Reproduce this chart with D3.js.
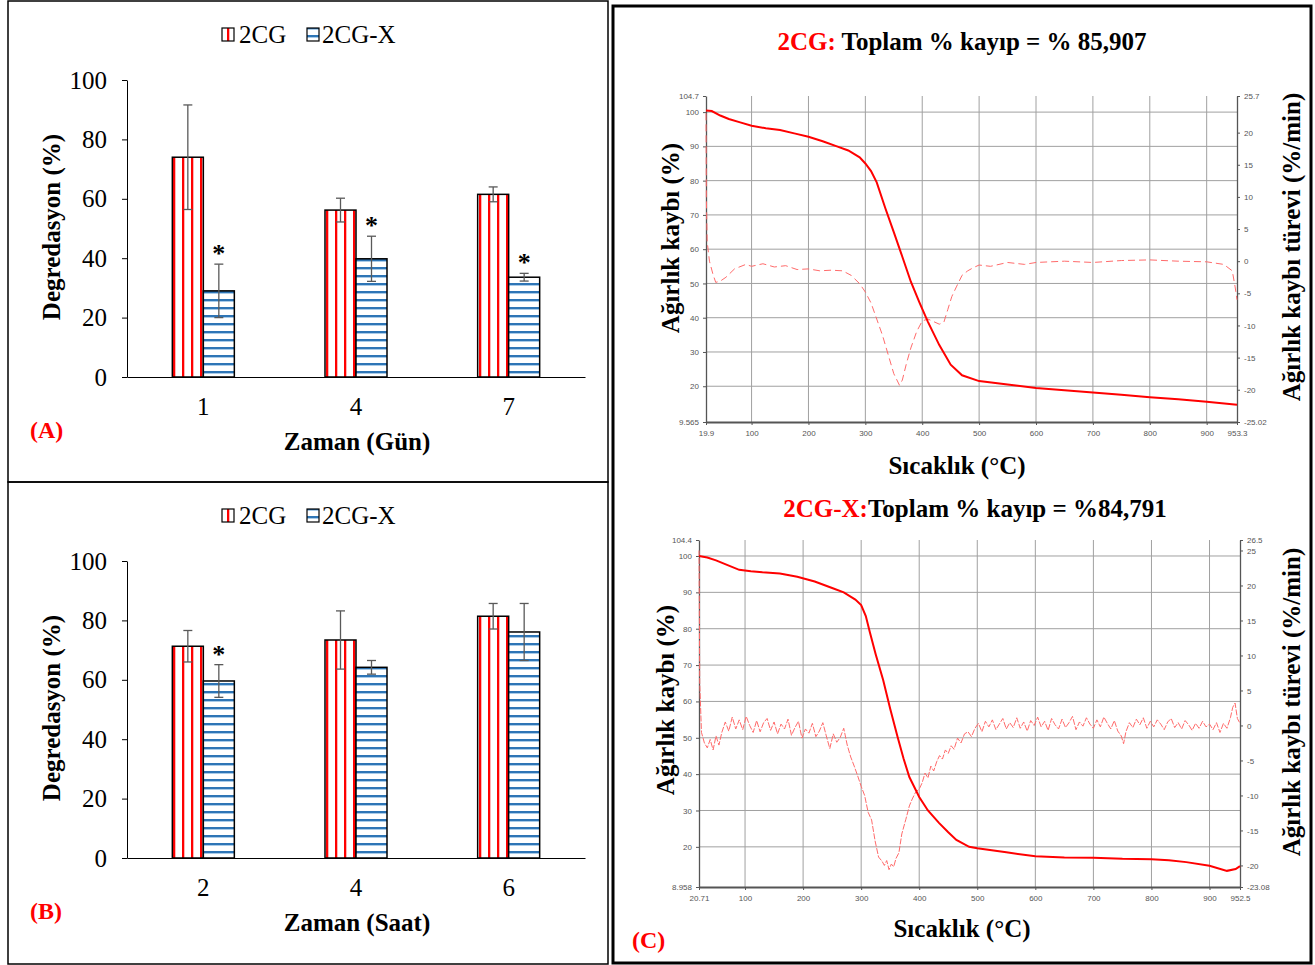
<!DOCTYPE html>
<html>
<head>
<meta charset="utf-8">
<script src="https://cdn.jsdelivr.net/npm/d3@7"></script>
<style>
  body { margin: 0; background: #fff; }
  text { font-family: "Liberation Serif", "Times New Roman", serif; }
  .tga text { font-family: "Liberation Sans", Arial, sans-serif; font-size: 8px; fill: #555; }
</style>
</head>
<body>
<script>
// ---- bar chart data (A: days, B: hours) ----
var daysA = ["1", "4", "7"];
var cgA = [74, 56.2, 61.5];
var cgErrA = [17.6, 4, 2.5];
var cgxA = [29, 39.8, 33.6];
var cgxErrA = [9, 7.6, 1.3];
var sigA = [true, true, true];

var hoursB = ["2", "4", "6"];
var cgB = [71.3, 73.4, 81.4];
var cgErrB = [5.3, 9.8, 4.3];
var cgxB = [59.6, 64.2, 76.1];
var cgxErrB = [5.5, 2.3, 9.6];
var sigB = [true, false, false];

var barTicks = [0, 20, 40, 60, 80, 100];

// ---- TGA data, 2CG ----
var tTop = [19.9, 30, 45, 60, 80, 100, 125, 150, 175, 200, 225, 250, 270, 290, 300, 310, 320, 335, 350, 365, 380, 395, 410, 430, 450, 470, 500, 550, 600, 650, 700, 750, 800, 825, 850, 900, 953.3];
var massTop = [100.5, 100.3, 99, 98, 97, 96, 95.3, 94.8, 93.8, 92.8, 91.5, 90, 88.8, 86.8, 85, 82.8, 79.5, 72, 65, 57.8, 50.5, 44.5, 38.8, 32, 26.3, 23.2, 21.5, 20.5, 19.5, 18.8, 18.2, 17.5, 16.8, 16.5, 16.2, 15.5, 14.6];
var tdTop = [19.9, 20.5, 22, 26, 32, 37, 45, 55, 70, 90, 100, 120, 140, 160, 180, 200, 220, 240, 260, 275, 290, 300, 310, 320, 330, 340, 350, 360, 365, 372, 380, 390, 400, 410, 420, 430, 438, 445, 452, 460, 470, 480, 490, 500, 520, 550, 580, 600, 650, 700, 750, 800, 850, 900, 930, 945, 950, 953.3];
var derivTop = [23, 10, 3, 0, -2, -3.3, -3.1, -2.5, -1.2, -0.5, -0.8, -0.4, -0.9, -0.7, -1.3, -1.2, -1.5, -1.4, -1.5, -2.2, -3.5, -4.8, -6.5, -9, -11.5, -14.5, -17.5, -19.3, -18.5, -16, -13.5, -11, -9.3, -9, -9.4, -9.8, -9.5, -7.5, -5.5, -4, -2.2, -1.5, -1, -0.6, -0.8, -0.2, -0.5, -0.2, 0, -0.2, 0.1, 0.2, 0, -0.1, -0.5, -1.5, -4, -6];
var xTicksTop = [19.9, 100, 200, 300, 400, 500, 600, 700, 800, 900, 953.3];
var yTicksTop = [9.565, 20, 30, 40, 50, 60, 70, 80, 90, 100, 104.7];
var rTicksTop = [-25.02, -20, -15, -10, -5, 0, 5, 10, 15, 20, 25.7];

// ---- TGA data, 2CG-X ----
var tBot = [20.71, 35, 50, 70, 90, 110, 130, 160, 190, 220, 250, 270, 290, 300, 308, 315, 325, 338, 350, 363, 373, 383, 400, 415, 434, 450, 464, 486, 500, 550, 600, 650, 700, 750, 800, 830, 860, 900, 930, 945, 952.5];
var massBot = [100, 99.6, 98.8, 97.5, 96.2, 95.8, 95.5, 95.2, 94.3, 93, 91.2, 90, 88, 86.5, 83.5, 79, 73, 65.8, 58, 50.1, 44.3, 39.2, 33.7, 30, 26.6, 24, 21.9, 20, 19.6, 18.5, 17.4, 17.1, 17.0, 16.7, 16.6, 16.3, 15.8, 14.8, 13.4, 13.9, 14.7];
var tdBot = [20.71, 22, 25, 30, 35, 40, 45, 50, 55, 60, 66, 72, 78, 84, 90, 96, 102, 108, 114, 120, 126, 132, 138, 144, 150, 156, 162, 168, 174, 180, 186, 192, 198, 204, 210, 216, 222, 228, 234, 240, 246, 252, 258, 264, 270, 276, 282, 288, 294, 300, 306, 312, 318, 324, 330, 336, 340, 344, 348, 352, 356, 360, 365, 370, 377, 383, 388, 394, 400, 405, 410, 415, 420, 425, 430, 435, 440, 445, 450, 455, 460, 466, 472, 478, 484, 490, 496, 502, 508, 514, 520, 526, 532, 538, 544, 550, 556, 562, 568, 574, 580, 586, 592, 598, 604, 610, 616, 622, 628, 634, 640, 646, 652, 658, 664, 670, 676, 682, 688, 694, 700, 706, 712, 718, 724, 730, 736, 742, 748, 752, 756, 762, 768, 774, 780, 786, 792, 798, 804, 810, 816, 822, 828, 834, 840, 846, 852, 858, 864, 870, 876, 882, 888, 894, 900, 906, 912, 918, 924, 930, 936, 940, 944, 948, 952.5];
var derivBot = [25, 6, -1, -2.5, -3.2, -2, -3.5, -1.5, -2.8, -1, 0.5, -0.8, 1.2, -0.5, 0.8, -0.6, 1.3, 0, -1, 0.7, -0.9, 0.4, 1, -0.7, 0.5, -1.2, 0.2, -0.5, 0.9, -1.4, -0.3, 0.6, -1.8, -0.5, -1.1, 0.3, -1.6, -0.8, 0.4, -1.5, -3.3, -1.2, -2.4, -1.7, -0.4, -2.8, -4.5, -5.8, -7.2, -8.7, -10, -12.4, -13.5, -16.5, -18.8, -19.4, -20, -19.3, -20.6, -19.8, -20.2, -19, -18.2, -15.5, -13.4, -11.5, -10.5, -9.5, -9.1, -8.2, -6.8, -7.5, -5.8, -6.5, -5.2, -4.3, -4.8, -3.5, -4, -2.9, -3.4, -1.8, -2.5, -1.2, -0.9, -1.6, -0.4, 0.3, -0.9, 0.6, -0.2, 0.8, -0.6, 0.2, 1, -0.5, 0.4, -0.3, 1.1, -0.4, 0.5, -0.8, 0.7, 0, 1.2, -0.2, 0.6, -0.7, 1, 0.1, -0.5, 0.9, -0.3, 0.4, 1.3, -0.6, 0.5, -0.1, 1.1, 0.2, -0.4, 0.8, -0.2, 1.2, 0.3, -0.5, 0.7, -0.8, -1.5, -2.6, -0.9, 0.4, -0.3, 0.9, 0.1, 1.1, -0.4, 0.6, -0.2, 0.8, 0.2, -0.6, 0.5, 1, -0.3, 0.4, -0.5, 0.7, 0.1, -0.7, 0.3, -0.4, 0.6, -0.2, 0.2, -0.6, 0.4, -1, 0.3, -0.4, 1.1, 2.6, 3.2, 1, 0.3];
var xTicksBot = [20.71, 100, 200, 300, 400, 500, 600, 700, 800, 900, 952.5];
var yTicksBot = [8.958, 20, 30, 40, 50, 60, 70, 80, 90, 100, 104.4];
var rTicksBot = [-23.08, -20, -15, -10, -5, 0, 5, 10, 15, 20, 25, 26.5];

var svg = d3.select("body").append("svg")
    .attr("width", 1315)
    .attr("height", 965);

// patterns for the bars
var defs = svg.append("defs");
var vp = defs.append("pattern").attr("id", "vstripe")
    .attr("patternUnits", "userSpaceOnUse").attr("width", 9).attr("height", 10);
vp.append("rect").attr("width", 9).attr("height", 10).attr("fill", "#fff");
vp.append("rect").attr("x", 2).attr("width", 2).attr("height", 10).attr("fill", "#ff0000");
vp.append("rect").attr("x", 4).attr("width", 1).attr("height", 10).attr("fill", "#ffb3b3");
var hp = defs.append("pattern").attr("id", "hstripe")
    .attr("patternUnits", "userSpaceOnUse").attr("width", 10).attr("height", 8);
hp.append("rect").attr("width", 10).attr("height", 8).attr("fill", "#fff");
hp.append("rect").attr("y", 3).attr("width", 10).attr("height", 2).attr("fill", "#2e75b6");
hp.append("rect").attr("y", 5).attr("width", 10).attr("height", 1).attr("fill", "#a9cbe8");

// panel frames
svg.append("rect").attr("x", 8).attr("y", 1).attr("width", 600).attr("height", 481)
   .attr("fill", "none").attr("stroke", "#000").attr("stroke-width", 1.5);
svg.append("rect").attr("x", 8).attr("y", 482).attr("width", 600).attr("height", 482)
   .attr("fill", "none").attr("stroke", "#000").attr("stroke-width", 1.5);
svg.append("rect").attr("x", 613).attr("y", 6).attr("width", 698).attr("height", 957)
   .attr("fill", "none").attr("stroke", "#000").attr("stroke-width", 3);

/* ---------- bar charts ---------- */
function drawBars(cats, cg, cgErr, cgx, cgxErr, sig, top, xTitle, tag) {
  var base = top + 377;
  var x = d3.scaleBand().domain(cats).range([127, 585]);
  var y = d3.scaleLinear().domain([0, 100]).range([base, base - 297]);
  var bw = 31;
  var g = svg.append("g");

  // legend
  var lg = g.append("g").attr("transform", "translate(0," + top + ")");
  lg.append("rect").attr("x", 222).attr("y", 28).attr("width", 12).attr("height", 13)
    .attr("fill", "url(#vstripe)").attr("stroke", "#000").attr("stroke-width", 1.2);
  lg.append("text").attr("x", 239).attr("y", 43).attr("font-size", 25).text("2CG");
  lg.append("rect").attr("x", 307).attr("y", 28).attr("width", 12).attr("height", 13)
    .attr("fill", "url(#hstripe)").attr("stroke", "#000").attr("stroke-width", 1.2);
  lg.append("text").attr("x", 322).attr("y", 43).attr("font-size", 25).text("2CG-X");

  // axes
  var ya = g.append("g").attr("transform", "translate(127,0)")
    .call(d3.axisLeft(y).tickValues(barTicks).tickSize(5).tickSizeOuter(0).tickPadding(15));
  ya.selectAll("text").attr("font-size", 25).attr("fill", "#000")
    .style("font-family", "Liberation Serif");
  ya.selectAll("line,path").attr("stroke", "#000");
  var xa = g.append("g").attr("transform", "translate(0," + base + ")")
    .call(d3.axisBottom(x).tickSize(0).tickSizeOuter(0).tickPadding(20));
  xa.selectAll("text").attr("font-size", 25).attr("fill", "#000")
    .style("font-family", "Liberation Serif");
  xa.select("path").attr("stroke", "#000").attr("stroke-width", 1.2);

  // bars
  cats.forEach(function(c, i) {
    var cx = x(c) + x.bandwidth() / 2;
    g.append("rect").attr("x", cx - bw).attr("y", y(cg[i]))
      .attr("width", bw).attr("height", base - y(cg[i]))
      .attr("fill", "url(#vstripe)").attr("stroke", "#000").attr("stroke-width", 1.5);
    g.append("rect").attr("x", cx).attr("y", y(cgx[i]))
      .attr("width", bw).attr("height", base - y(cgx[i]))
      .attr("fill", "url(#hstripe)").attr("stroke", "#000").attr("stroke-width", 1.5);
    // error bars
    [[cx - bw / 2, cg[i], cgErr[i]], [cx + bw / 2, cgx[i], cgxErr[i]]].forEach(function(e) {
      var y1 = y(e[1] + e[2]), y2 = y(e[1] - e[2]);
      g.append("line").attr("x1", e[0]).attr("x2", e[0]).attr("y1", y1).attr("y2", y2)
        .attr("stroke", "#595959").attr("stroke-width", 1.3);
      [y1, y2].forEach(function(yy) {
        g.append("line").attr("x1", e[0] - 4.5).attr("x2", e[0] + 4.5).attr("y1", yy).attr("y2", yy)
          .attr("stroke", "#595959").attr("stroke-width", 1.3);
      });
    });
    if (sig[i]) {
      g.append("text").attr("x", cx + bw / 2).attr("y", y(cgx[i] + cgxErr[i]) - 2)
        .attr("text-anchor", "middle").attr("font-size", 26).attr("font-weight", "bold").text("*");
    }
  });

  // titles
  g.append("text").attr("transform", "translate(60," + (top + 227) + ") rotate(-90)")
    .attr("text-anchor", "middle").attr("font-size", 25).attr("font-weight", "bold")
    .text("Degredasyon (%)");
  g.append("text").attr("x", 357).attr("y", top + 450).attr("text-anchor", "middle")
    .attr("font-size", 25).attr("font-weight", "bold").text(xTitle);
  g.append("text").attr("x", 30).attr("y", top + 438).attr("font-size", 24)
    .attr("font-weight", "bold").attr("fill", "#ff0000").text(tag);
}

drawBars(daysA, cgA, cgErrA, cgxA, cgxErrA, sigA, 0, "Zaman (Gün)", "(A)");
drawBars(hoursB, cgB, cgErrB, cgxB, cgxErrB, sigB, 481, "Zaman (Saat)", "(B)");

/* ---------- TGA charts ---------- */
function drawTGA(c) {
  var x = d3.scaleLinear().domain([c.xt[0], c.xt[c.xt.length - 1]]).range([c.left, c.right]);
  var y = d3.scaleLinear().domain([c.yt[0], c.yt[c.yt.length - 1]]).range([c.bottom, c.top]);
  var yr = d3.scaleLinear().domain([c.rt[0], c.rt[c.rt.length - 1]]).range([c.bottom, c.top]);
  var g = svg.append("g").attr("class", "tga");

  // grid
  c.yt.slice(1, -1).forEach(function(v) {
    g.append("line").attr("x1", c.left).attr("x2", c.right).attr("y1", y(v)).attr("y2", y(v))
      .attr("stroke", "#a0a0a0").attr("stroke-width", 1);
  });
  c.xt.slice(1, -1).forEach(function(v) {
    g.append("line").attr("x1", x(v)).attr("x2", x(v)).attr("y1", c.top).attr("y2", c.bottom)
      .attr("stroke", "#a0a0a0").attr("stroke-width", 1);
  });

  // axes
  var ax = g.append("g").attr("transform", "translate(0," + c.bottom + ")")
    .call(d3.axisBottom(x).tickValues(c.xt).tickSize(3).tickSizeOuter(0).tickPadding(5).tickFormat(String));
  var ay = g.append("g").attr("transform", "translate(" + c.left + ",0)")
    .call(d3.axisLeft(y).tickValues(c.yt).tickSize(3).tickSizeOuter(0).tickPadding(4).tickFormat(String));
  var ar = g.append("g").attr("transform", "translate(" + c.right + ",0)")
    .call(d3.axisRight(yr).tickValues(c.rt).tickSize(3).tickSizeOuter(0).tickPadding(4).tickFormat(String));
  [ax, ay, ar].forEach(function(a) {
    a.selectAll("line").attr("stroke", "#555");
    a.select("path").attr("stroke", "#555").attr("stroke-width", 1.3);
    a.selectAll("text").attr("font-size", 8).attr("fill", "#555");
  });
  ax.select("path").attr("stroke-width", 2);

  // curves
  var massLine = d3.line().x(function(d) { return x(d[0]); }).y(function(d) { return y(d[1]); });
  var derivLine = d3.line().x(function(d) { return x(d[0]); }).y(function(d) { return yr(d[1]); });
  g.append("path").datum(d3.zip(c.td, c.deriv)).attr("d", derivLine)
    .attr("fill", "none").attr("stroke", "#ff6b6b").attr("stroke-width", 1)
    .attr("stroke-dasharray", c.dash);
  g.append("path").datum(d3.zip(c.t, c.mass)).attr("d", massLine)
    .attr("fill", "none").attr("stroke", "#ff0000").attr("stroke-width", 2);

  // titles
  var tt = svg.append("text").attr("x", c.titleX).attr("y", c.titleY)
    .attr("text-anchor", "middle").attr("font-size", 25).attr("font-weight", "bold");
  tt.append("tspan").attr("fill", "#ff0000").text(c.name);
  tt.append("tspan").attr("fill", "#000").text(c.loss);
  svg.append("text").attr("transform", "translate(" + c.lyX + "," + c.lyY + ") rotate(-90)")
    .attr("text-anchor", "middle").attr("font-size", 25).attr("font-weight", "bold")
    .text("Ağırlık kaybı (%)");
  svg.append("text").attr("transform", "translate(" + c.ryX + "," + c.ryY + ") rotate(-90)")
    .attr("text-anchor", "middle").attr("font-size", 25).attr("font-weight", "bold")
    .text("Ağırlık kaybı türevi (%/min)");
  svg.append("text").attr("x", c.xlX).attr("y", c.xlY)
    .attr("text-anchor", "middle").attr("font-size", 25).attr("font-weight", "bold")
    .text("Sıcaklık (°C)");
}

drawTGA({
  t: tTop, mass: massTop, td: tdTop, deriv: derivTop,
  xt: xTicksTop, yt: yTicksTop, rt: rTicksTop,
  left: 706, right: 1237, top: 96, bottom: 422, dash: "7,4",
  name: "2CG: ", loss: "Toplam % kayıp = % 85,907", titleX: 962, titleY: 50,
  lyX: 679, lyY: 238, ryX: 1300, ryY: 247, xlX: 957, xlY: 474
});
drawTGA({
  t: tBot, mass: massBot, td: tdBot, deriv: derivBot,
  xt: xTicksBot, yt: yTicksBot, rt: rTicksBot,
  left: 699, right: 1240, top: 540, bottom: 887, dash: "6,1.5",
  name: "2CG-X:", loss: "Toplam % kayıp = %84,791", titleX: 975, titleY: 517,
  lyX: 674, lyY: 700, ryX: 1300, ryY: 702, xlX: 962, xlY: 937
});

svg.append("text").attr("x", 632).attr("y", 948).attr("font-size", 24)
   .attr("font-weight", "bold").attr("fill", "#ff0000").text("(C)");
</script>
</body>
</html>
